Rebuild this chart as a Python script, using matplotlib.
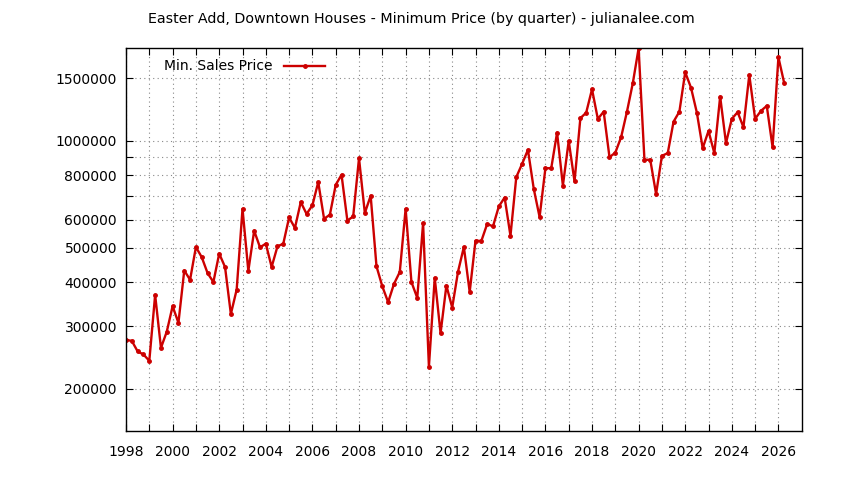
import numpy as np
import matplotlib
matplotlib.use("Agg")
import matplotlib.pyplot as plt
from matplotlib.ticker import FixedLocator, FuncFormatter, NullLocator

# quarterly minimum sales price, 1998 Q1 .. 2026 Q2
prices = [
    275000, 273000, 255000, 250000,     # 1998
    240000, 368000, 261000, 290000,     # 1999
    342000, 307000, 431000, 406000,     # 2000
    502000, 470000, 424000, 400000,     # 2001
    481000, 441000, 325000, 381000,     # 2002
    643000, 430000, 558000, 501000,     # 2003
    513000, 441000, 504000, 513000,     # 2004
    608000, 568000, 672000, 622000,     # 2005
    658000, 765000, 603000, 619000,     # 2006
    751000, 802000, 596000, 612000,     # 2007
    893000, 626000, 700000, 443000,     # 2008
    389000, 351000, 395000, 427000,     # 2009
    643000, 400000, 361000, 586000,     # 2010
    231000, 411000, 287000, 391000,     # 2011
    339000, 428000, 502000, 375000,     # 2012
    523000, 522000, 583000, 574000,     # 2013
    653000, 692000, 540000, 790000,     # 2014
    861000, 943000, 732000, 610000,     # 2015
    837000, 837000, 1054000, 748000,    # 2016
    999000, 768000, 1158000, 1200000,   # 2017
    1397000, 1152000, 1208000, 899000,  # 2018
    926000, 1024000, 1208000, 1452000,  # 2019
    1822000, 884000, 884000, 708000,    # 2020
    907000, 923000, 1132000, 1208000,   # 2021
    1560000, 1410000, 1200000, 953000,  # 2022
    1066000, 923000, 1332000, 985000,   # 2023
    1153000, 1204000, 1092000, 1533000, # 2024
    1153000, 1214000, 1254000, 959000,  # 2025
    1719000, 1452000,                   # 2026
]
quarters = 1998 + np.arange(len(prices)) * 0.25

y_ticks = [200000, 300000, 400000, 500000, 600000, 700000,
           800000, 900000, 1000000, 1500000]
y_labeled = [200000, 300000, 400000, 500000, 600000, 800000, 1000000, 1500000]
x_years = list(range(1998, 2027))

title = "Easter Add, Downtown Houses - Minimum Price (by quarter) - julianalee.com"

plt.rcParams['font.family'] = 'DejaVu Sans'

fig = plt.figure(figsize=(8.44, 4.8), dpi=100)
ax = fig.add_axes([0.1493, 0.1027, 0.8006, 0.7967])

ax.plot(quarters, prices, color='#cc0000', lw=1.7, marker='o', ms=2.5,
        label='Min. Sales Price')

ax.set_yscale('log')
ax.set_xlim(1998, 2027)
ax.set_ylim(152500, 1822000)

ax.yaxis.set_major_locator(FixedLocator(y_ticks))
ax.yaxis.set_minor_locator(NullLocator())
ax.yaxis.set_major_formatter(FuncFormatter(
    lambda v, p: "%d" % v if int(round(v)) in y_labeled else ""))
ax.xaxis.set_major_locator(FixedLocator(x_years))
ax.xaxis.set_major_formatter(FuncFormatter(
    lambda v, p: "%d" % v if int(round(v)) % 2 == 0 else ""))

ax.tick_params(direction='in', length=5, width=0.8, top=True, right=True,
               labelsize=10, colors='black')
ax.tick_params(axis='y', pad=6.5)
ax.tick_params(axis='x', pad=10)
ax.grid(True, which='major', color='#888888', linestyle=(0, (1, 3)), lw=0.8)
for s in ax.spines.values():
    s.set_linewidth(1.0)

leg = ax.legend(loc='upper left', frameon=False, fontsize=10,
                markerfirst=False, handlelength=3.0,
                bbox_to_anchor=(0.04, 1.0), borderaxespad=0.4)

fig.text(0.499, 0.96, title, ha='center', va='center', fontsize=10.3)

fig.savefig('out.png', dpi=100)
